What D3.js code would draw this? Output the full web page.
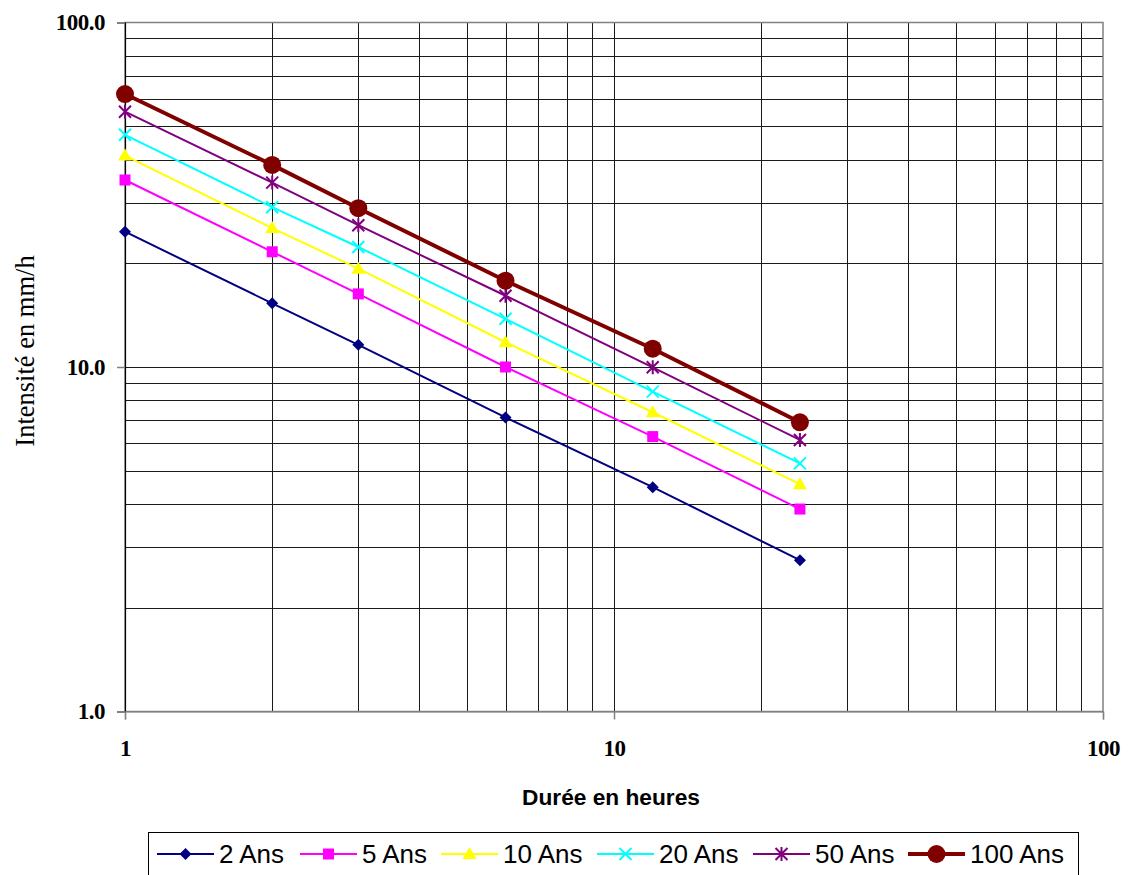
<!DOCTYPE html>
<html>
<head>
<meta charset="utf-8">
<script src="https://cdn.jsdelivr.net/npm/d3@7"></script>
<style>
  html, body { margin: 0; padding: 0; background: #fff; }
  svg { display: block; }
</style>
</head>
<body>
<svg id="chart" width="1129" height="875"></svg>
<script>
// Durations (hours) and intensities (mm/h) for each return period
const durations = [1, 2, 3, 6, 12, 24];
const seriesNames = ["2 Ans", "5 Ans", "10 Ans", "20 Ans", "50 Ans", "100 Ans"];
const ans2   = [24.7, 15.3, 11.6, 7.14, 4.48, 2.75];
const ans5   = [34.9, 21.6, 16.3, 10.0, 6.28, 3.87];
const ans10  = [41.1, 25.3, 19.3, 11.8, 7.39, 4.57];
const ans20  = [47.2, 29.1, 22.3, 13.8, 8.48, 5.25];
const ans50  = [55.1, 34.3, 25.8, 16.1, 9.98, 6.14];
const ans100 = [62.0, 38.6, 28.9, 17.8, 11.3, 6.91];
const xTickLabels = ["1", "10", "100"];
const yTickLabels = ["1.0", "10.0", "100.0"];

const seriesValues = [ans2, ans5, ans10, ans20, ans50, ans100];
const colors = ["#000080", "#FF00FF", "#FFFF00", "#00FFFF", "#800080", "#800000"];
const markers = ["diamond", "square", "triangle", "cross", "star", "circle"];
const widths = [2, 2, 2, 2, 2, 4];

const svg = d3.select("#chart");
const plot = { left: 125, right: 1103, top: 22.5, bottom: 711.5 };

const x = d3.scaleLog().domain([1, 100]).range([plot.left, plot.right]);
const y = d3.scaleLog().domain([1, 100]).range([plot.bottom, plot.top]);

// Minor + major grid values per decade
const gridVals = [];
[1, 10].forEach(d => { for (let k = 1; k <= 9; k++) gridVals.push(d * k); });
gridVals.push(100);

const grid = svg.append("g");
gridVals.forEach(v => {
  if (v > 1 && v < 100) {
    grid.append("line")
      .attr("x1", Math.round(x(v)) + 0.5).attr("x2", Math.round(x(v)) + 0.5)
      .attr("y1", plot.top).attr("y2", plot.bottom)
      .attr("stroke", "#1a1a1a").attr("stroke-width", 1);
    grid.append("line")
      .attr("x1", plot.left).attr("x2", plot.right)
      .attr("y1", Math.round(y(v)) + 0.5).attr("y2", Math.round(y(v)) + 0.5)
      .attr("stroke", "#1a1a1a").attr("stroke-width", 1);
  }
});

// Plot frame
svg.append("rect")
  .attr("x", plot.left).attr("y", plot.top)
  .attr("width", plot.right - plot.left).attr("height", plot.bottom - plot.top)
  .attr("fill", "none").attr("stroke", "#808080").attr("stroke-width", 1.5);

// Axes with decade ticks only
const yAxis = d3.axisLeft(y).tickValues([1, 10, 100]).tickSize(8)
  .tickFormat((d, i) => yTickLabels[i]).tickPadding(12);
const xAxis = d3.axisBottom(x).tickValues([1, 10, 100]).tickSize(8)
  .tickFormat((d, i) => xTickLabels[i]).tickPadding(16);

const gy = svg.append("g").attr("transform", `translate(${plot.left},0)`).call(yAxis);
const gx = svg.append("g").attr("transform", `translate(0,${plot.bottom})`).call(xAxis);
[gx, gy].forEach(g => {
  g.select(".domain").attr("stroke", "#000").attr("stroke-width", 1.2);
  g.selectAll(".tick line").attr("stroke", "#808080").attr("stroke-width", 1.5);
  g.selectAll(".tick text")
    .attr("fill", "#000")
    .style("font-family", "'Liberation Serif', 'Times New Roman', serif")
    .style("font-weight", "bold")
    .style("font-size", "23px")
    .style("letter-spacing", "-0.5px");
});
gx.select(".domain").attr("stroke", "#808080");
gx.selectAll(".tick text").attr("dy", "0.9em");
gy.selectAll(".tick text").attr("dy", "0.32em");

// Axis titles
svg.append("text")
  .attr("x", 611).attr("y", 805)
  .attr("text-anchor", "middle")
  .style("font-family", "'Liberation Sans', Arial, sans-serif")
  .style("font-weight", "bold").style("font-size", "22.7px")
  .text("Durée en heures");

svg.append("text")
  .attr("transform", "translate(34,351) rotate(-90)")
  .attr("text-anchor", "middle")
  .style("font-family", "'Liberation Serif', 'Times New Roman', serif")
  .style("font-size", "26.5px")
  .text("Intensité en mm/h");

// Marker drawing helper
function drawMarker(g, type, cx, cy, color) {
  switch (type) {
    case "diamond":
      g.append("path").attr("d", `M${cx},${cy - 6}L${cx + 6},${cy}L${cx},${cy + 6}L${cx - 6},${cy}Z`).attr("fill", color);
      break;
    case "square":
      g.append("rect").attr("x", cx - 5.5).attr("y", cy - 5.5).attr("width", 11).attr("height", 11).attr("fill", color);
      break;
    case "triangle":
      g.append("path").attr("d", `M${cx},${cy - 7}L${cx + 7},${cy + 5}L${cx - 7},${cy + 5}Z`).attr("fill", color);
      break;
    case "cross":
      g.append("path").attr("d", `M${cx - 6},${cy - 6}L${cx + 6},${cy + 6}M${cx - 6},${cy + 6}L${cx + 6},${cy - 6}`)
        .attr("stroke", color).attr("stroke-width", 2);
      break;
    case "star":
      g.append("path").attr("d", `M${cx - 6},${cy - 6}L${cx + 6},${cy + 6}M${cx - 6},${cy + 6}L${cx + 6},${cy - 6}M${cx},${cy - 7}L${cx},${cy + 7}`)
        .attr("stroke", color).attr("stroke-width", 2);
      break;
    case "circle":
      g.append("circle").attr("cx", cx).attr("cy", cy).attr("r", 9).attr("fill", color);
      break;
  }
}

// Series lines and markers
const line = d3.line().x(d => x(d[0])).y(d => y(d[1]));
seriesValues.forEach((vals, i) => {
  const pts = durations.map((d, j) => [d, vals[j]]);
  const g = svg.append("g");
  g.append("path").attr("d", line(pts)).attr("fill", "none")
    .attr("stroke", colors[i]).attr("stroke-width", widths[i]);
  pts.forEach(p => drawMarker(g, markers[i], x(p[0]), y(p[1]), colors[i]));
});

// Legend
const legend = svg.append("g");
legend.append("rect").attr("x", 148.5).attr("y", 832.5).attr("width", 930).attr("height", 60)
  .attr("fill", "#fff").attr("stroke", "#000").attr("stroke-width", 1);
const legendX = [157, 300, 441, 597, 753, 908];
seriesNames.forEach((name, i) => {
  const lx = legendX[i], ly = 854;
  const lg = legend.append("g");
  lg.append("line").attr("x1", lx).attr("x2", lx + 57).attr("y1", ly).attr("y2", ly)
    .attr("stroke", colors[i]).attr("stroke-width", widths[i]);
  drawMarker(lg, markers[i], lx + 28.5, ly, colors[i]);
  lg.append("text").attr("x", lx + 62).attr("y", ly + 9)
    .style("font-family", "'Liberation Sans', Arial, sans-serif")
    .style("font-size", "26px")
    .text(name);
});
</script>
</body>
</html>
